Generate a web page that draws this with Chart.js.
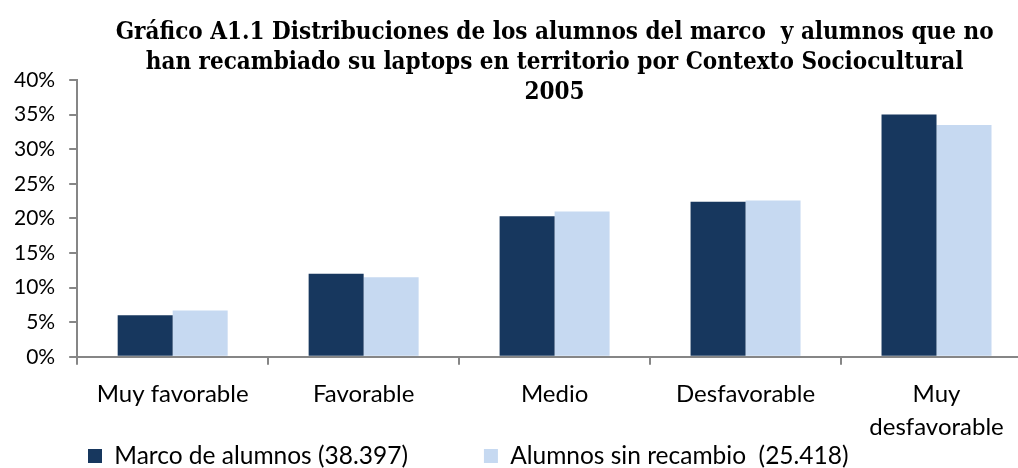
<!DOCTYPE html>
<html><head><meta charset="utf-8">
<script src="https://cdn.jsdelivr.net/npm/chart.js@4"></script>
<style>
html,body{margin:0;padding:0;background:#fff;overflow:hidden;width:1018px;height:468px}
#wrap{width:1040px;height:468px;position:relative}
</style></head><body><div id="wrap"><canvas id="c"></canvas></div>
<script>
const categories = ['Muy favorable', 'Favorable', 'Medio', 'Desfavorable', ['Muy', 'desfavorable']];
const marcoValues = [6.0, 12.0, 20.3, 22.4, 35.0];
const sinRecambioValues = [6.7, 11.5, 21.0, 22.6, 33.5];
const seriesLabels = ['Marco de alumnos (38.397)', 'Alumnos sin recambio  (25.418)'];
const yTickValues = [0, 5, 10, 15, 20, 25, 30, 35, 40];
const titleLines = [
  'Gráfico A1.1 Distribuciones de los alumnos del marco  y alumnos que no',
  'han recambiado su laptops en territorio por Contexto Sociocultural',
  '2005'
];

const AXIS = '#868686';
const LEGEND_TEXT_MID = 456;
const LEGEND_LEFT = 12;

const legendRow = {
  id: 'legendRow',
  afterLayout(chart) {
    const lg = chart.legend;
    if (!lg) return;
    const p = lg.options.labels.padding;
    const fs = lg.options.labels.font.size;
    lg.top = LEGEND_TEXT_MID - fs / 2 - p;
    lg.bottom = chart.height;
    lg.left = LEGEND_LEFT;
    lg.right = chart.width;
  }
};

new Chart(document.getElementById('c'), {
  type: 'bar',
  data: {
    labels: categories,
    datasets: [
      { label: seriesLabels[0], data: marcoValues, backgroundColor: '#17375E', borderWidth: 0 },
      { label: seriesLabels[1], data: sinRecambioValues, backgroundColor: '#C6D9F1', borderWidth: 0 }
    ]
  },
  options: {
    responsive: true,
    maintainAspectRatio: false,
    animation: false,
    datasets: { bar: { categoryPercentage: 0.576, barPercentage: 1.0 } },
    layout: { padding: { left: 0, right: 8, top: 0, bottom: 0 } },
    plugins: {
      title: {
        display: true,
        text: titleLines,
        fullSize: false,
        color: '#000',
        font: { family: '"DejaVu Serif Condensed", "DejaVu Serif", serif', size: 24, weight: 'bold', lineHeight: '30px' },
        padding: { top: 18, bottom: -28 }
      },
      legend: {
        position: 'bottom',
        align: 'start',
        maxHeight: 11,
        labels: {
          boxWidth: 14, boxHeight: 14, padding: 76, color: '#000',
          font: { family: 'Lato, sans-serif', size: 24.5 }
        }
      },
      tooltip: { enabled: false }
    },
    scales: {
      x: {
        grid: { display: true, drawOnChartArea: false, drawTicks: true, tickLength: 8, color: AXIS, lineWidth: 2, offset: true },
        border: { color: AXIS, width: 2 },
        ticks: { color: '#000', font: { family: 'Lato, sans-serif', size: 24, lineHeight: 1.38 }, padding: 13, maxRotation: 0, autoSkip: false }
      },
      y: {
        min: 0, max: 40,
        afterBuildTicks: (axis) => { axis.ticks = yTickValues.map(v => ({ value: v })); },
        ticks: { color: '#000', font: { family: 'Lato, sans-serif', size: 21 }, padding: 14, callback: (v) => v + '%' },
        grid: { display: true, drawOnChartArea: false, drawTicks: true, tickLength: 8, color: AXIS, lineWidth: 2 },
        border: { color: AXIS, width: 2 }
      }
    }
  },
  plugins: [legendRow]
});
</script></body></html>
